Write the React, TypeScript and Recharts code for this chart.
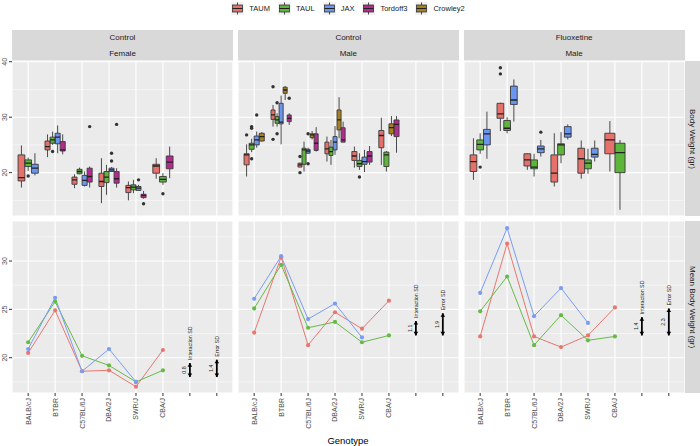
import { ComposedChart, Line, Area, Scatter, XAxis, YAxis, CartesianGrid } from "recharts";

// ---- data ----
const GENOTYPES = ["BALB/cJ", "BTBR", "C57BL/6J", "DBA/2J", "SWR/J", "CBA/J"];
const CATEGORY_TICKS = [1, 2, 3, 4, 5, 6, 7, 8]; // 7 and 8 hold the SD arrows
const LEGEND_GROUPS = ["TAUM", "TAUL", "JAX", "Tordoff3", "Crowley2"];
const DODGE_ORDER = ["TAUM", "TAUL", "JAX", "Crowley2", "Tordoff3"];
const MEAN_GROUPS = ["TAUM", "TAUL", "JAX"];
const STRIP_TREATMENT = ["Control", "Control", "Fluoxetine"];
const STRIP_SEX = ["Female", "Male", "Male"];
const SD_NAMES = ["Interaction SD", "Error SD"];

const BOX_COLORS: Record<string, string> = {
  TAUM: "#E5716A",
  TAUL: "#5DB53C",
  JAX: "#6B96EF",
  Tordoff3: "#B32B8E",
  Crowley2: "#A68020",
};
const LINE_COLORS: Record<string, string> = {
  TAUM: "#E8776F",
  TAUL: "#67BA48",
  JAX: "#7A9DF1",
};

// genotype, group, lower whisker, q1, median, q3, upper whisker, outliers
type Box = [string, string, number, number, number, number, number, number[]];

const FEMALE_BOXES: Box[] = [
  ["BALB/cJ", "TAUM", 17.3, 18.5, 19.1, 23.2, 24.9, []],
  ["BALB/cJ", "TAUL", 20.3, 21.1, 21.7, 22.3, 22.7, [19.4]],
  ["BALB/cJ", "JAX", 19.5, 19.9, 20.8, 21.5, 23.5, []],
  ["BTBR", "TAUM", 22.8, 24.1, 24.7, 25.7, 26.9, []],
  ["BTBR", "TAUL", 25.0, 25.3, 25.9, 26.4, 27.4, [23.8]],
  ["BTBR", "JAX", 23.5, 25.2, 26.4, 27.1, 28.5, []],
  ["BTBR", "Tordoff3", 23.3, 23.9, 24.1, 25.6, 26.9, []],
  ["C57BL/6J", "TAUM", 17.2, 17.9, 18.7, 19.2, 19.7, []],
  ["C57BL/6J", "TAUL", 19.7, 19.8, 20.2, 20.6, 20.9, []],
  ["C57BL/6J", "JAX", 17.5, 17.7, 18.6, 19.5, 20.2, []],
  ["C57BL/6J", "Tordoff3", 17.3, 18.3, 19.3, 20.8, 21.1, [28.3]],
  ["DBA/2J", "TAUM", 14.5, 17.5, 18.4, 19.9, 22.6, []],
  ["DBA/2J", "TAUL", 16.0, 18.2, 19.2, 20.2, 21.4, []],
  ["DBA/2J", "JAX", 20.1, 20.2, 20.5, 20.8, 21.0, [23.5, 22.1]],
  ["DBA/2J", "Tordoff3", 17.3, 18.1, 18.9, 20.2, 20.8, [28.7]],
  ["SWR/J", "TAUM", 15.0, 16.4, 17.3, 17.7, 18.4, []],
  ["SWR/J", "TAUL", 16.3, 16.9, 17.4, 17.8, 18.7, []],
  ["SWR/J", "JAX", 16.7, 16.8, 17.2, 17.5, 17.8, [18.7]],
  ["SWR/J", "Tordoff3", 15.3, 15.5, 15.9, 16.1, 16.7, [14.4]],
  ["CBA/J", "TAUM", 18.9, 19.9, 21.2, 21.5, 22.6, []],
  ["CBA/J", "TAUL", 17.8, 18.3, 18.8, 19.3, 19.9, [16.2]],
  ["CBA/J", "Tordoff3", 19.0, 20.7, 21.9, 23.0, 24.7, []],
];

const MALE_BOXES: Box[] = [
  ["BALB/cJ", "TAUM", 19.3, 21.4, 23.2, 23.4, 25.1, [26.8]],
  ["BALB/cJ", "TAUL", 23.7, 24.2, 25.0, 25.3, 26.1, [28.3, 28.0, 22.5]],
  ["BALB/cJ", "JAX", 24.5, 25.0, 25.9, 26.6, 27.4, [30.4]],
  ["BALB/cJ", "Crowley2", 25.6, 25.7, 26.5, 27.1, 27.3, []],
  ["BTBR", "TAUM", 28.3, 29.6, 30.4, 31.3, 32.2, [26.0, 35.5]],
  ["BTBR", "TAUL", 28.3, 28.9, 29.5, 30.1, 30.7, [32.6, 27.0]],
  ["BTBR", "JAX", 25.1, 28.8, 29.1, 32.5, 33.9, []],
  ["BTBR", "Crowley2", 33.1, 34.3, 34.9, 35.4, 35.6, []],
  ["BTBR", "Tordoff3", 28.6, 29.2, 29.8, 30.4, 30.7, [33.4]],
  ["C57BL/6J", "TAUM", 21.0, 21.0, 21.4, 21.7, 21.8, [22.9, 20.0]],
  ["C57BL/6J", "TAUL", 20.2, 21.5, 24.1, 24.4, 25.6, []],
  ["C57BL/6J", "JAX", 23.4, 23.5, 23.9, 24.2, 24.5, [27.0, 21.6]],
  ["C57BL/6J", "Crowley2", 26.0, 26.3, 26.8, 27.0, 27.5, []],
  ["C57BL/6J", "Tordoff3", 23.8, 24.0, 25.3, 27.0, 28.2, []],
  ["DBA/2J", "TAUM", 22.0, 23.4, 24.3, 25.5, 26.5, []],
  ["DBA/2J", "TAUL", 21.4, 23.1, 23.8, 24.6, 25.9, []],
  ["DBA/2J", "JAX", 23.2, 24.1, 25.5, 26.5, 28.4, []],
  ["DBA/2J", "Crowley2", 26.2, 27.7, 29.5, 31.3, 33.6, []],
  ["DBA/2J", "Tordoff3", 25.5, 25.5, 25.9, 28.1, 29.2, []],
  ["SWR/J", "TAUM", 20.9, 22.2, 23.0, 23.8, 24.7, []],
  ["SWR/J", "TAUL", 20.5, 21.1, 21.6, 22.2, 23.5, [19.2]],
  ["SWR/J", "JAX", 20.1, 21.5, 22.0, 22.8, 24.1, []],
  ["SWR/J", "Tordoff3", 21.4, 21.9, 23.0, 23.8, 24.8, []],
  ["CBA/J", "TAUM", 21.4, 24.5, 26.7, 27.6, 29.9, []],
  ["CBA/J", "TAUL", 20.2, 21.1, 23.2, 23.7, 23.9, []],
  ["CBA/J", "Crowley2", 26.6, 27.0, 28.1, 28.8, 30.2, []],
  ["CBA/J", "Tordoff3", 23.6, 26.5, 28.7, 29.5, 30.2, []],
];

const FLUOX_BOXES: Box[] = [
  ["BALB/cJ", "TAUM", 18.7, 20.2, 22.0, 23.2, 26.2, []],
  ["BALB/cJ", "TAUL", 23.4, 24.1, 25.1, 25.9, 27.1, [21.0]],
  ["BALB/cJ", "JAX", 22.5, 25.0, 27.0, 27.8, 31.0, []],
  ["BTBR", "TAUM", 27.5, 29.8, 30.6, 32.5, 32.6, [38.9, 37.8]],
  ["BTBR", "TAUL", 27.1, 27.6, 28.0, 29.4, 30.0, []],
  ["BTBR", "JAX", 29.2, 32.3, 33.1, 35.6, 36.8, []],
  ["C57BL/6J", "TAUM", 20.5, 21.2, 22.3, 23.4, 23.5, []],
  ["C57BL/6J", "TAUL", 19.3, 20.7, 21.0, 22.3, 23.4, []],
  ["C57BL/6J", "JAX", 22.9, 23.6, 24.3, 24.8, 25.9, [27.3]],
  ["DBA/2J", "TAUM", 17.5, 18.3, 19.9, 23.2, 27.1, []],
  ["DBA/2J", "TAUL", 21.7, 23.2, 25.0, 25.2, 27.3, []],
  ["DBA/2J", "JAX", 26.0, 26.4, 27.0, 28.3, 28.7, []],
  ["SWR/J", "TAUM", 18.9, 19.9, 22.5, 24.4, 25.8, []],
  ["SWR/J", "TAUL", 19.8, 20.7, 21.7, 22.3, 24.3, []],
  ["SWR/J", "JAX", 22.0, 22.8, 23.3, 24.4, 25.8, []],
  ["CBA/J", "TAUM", 20.2, 23.4, 25.9, 27.1, 29.3, []],
  ["CBA/J", "TAUL", 13.3, 20.0, 23.6, 25.3, 25.9, []],
];

// mean body weight per genotype (TAUM, TAUL, JAX)
const FEMALE_MEAN_TAUM = [20.5, 24.9, 18.6, 18.7, 17.0, 20.8];
const FEMALE_MEAN_TAUL = [21.6, 25.8, 20.2, 19.2, 17.5, 18.7];
const FEMALE_MEAN_JAX = [20.9, 26.2, 18.6, 20.9, 17.5, null];
const MALE_MEAN_TAUM = [22.6, 30.4, 21.3, 24.7, 23.0, 25.9];
const MALE_MEAN_TAUL = [25.1, 29.6, 23.1, 23.7, 21.6, 22.3];
const MALE_MEAN_JAX = [26.1, 30.5, 24.0, 25.6, 22.1, null];
const FLUOX_MEAN_TAUM = [22.2, 31.8, 22.2, 21.1, 22.3, 25.2];
const FLUOX_MEAN_TAUL = [24.8, 28.4, 21.3, 24.4, 21.8, 22.2];
const FLUOX_MEAN_JAX = [26.7, 33.4, 24.3, 27.2, 23.6, null];

// SD values (interaction, error) and the arrow extents as drawn
const FEMALE_SD = [0.8, 1.4];
const MALE_SD = [1.1, 1.9];
const FLUOX_SD = [1.4, 2.3];
const FEMALE_ARROW_LOW = [18.0, 18.0];
const FEMALE_ARROW_HIGH = [19.45, 19.8];
const MALE_ARROW_LOW = [22.3, 22.3];
const MALE_ARROW_HIGH = [23.8, 24.6];
const FLUOX_ARROW_LOW = [22.3, 22.3];
const FLUOX_ARROW_HIGH = [24.2, 25.1];

const TOP_MAJOR = [20, 30, 40];
const TOP_MINOR = [15, 25, 35];
const BOTTOM_MAJOR = [20, 25, 30];
const BOTTOM_MINOR = [17.5, 22.5, 27.5, 32.5];

// ---- layout ----
const X_DOMAIN = [0.4, 8.6];
const TOP_DOMAIN = [12.18, 40.13];
const BOTTOM_DOMAIN = [16.35, 34.14];
const PANEL_LEFT = [12, 237.8, 463.6];
const PANEL_W = 221;
const Y_AXIS_W = 12;
const TOP_Y = 61;
const TOP_H = 155;
const TOP_PAD = 6; // room for the "40" label above the panel
const BOTTOM_Y = 221;
const BOTTOM_H = 172;
const X_AXIS_H = 45;
const FONT = '"Liberation Sans", Arial, Helvetica, sans-serif';
const OUTLINE = "#3a3a3a";

function dodge(boxes: Box[]) {
  return boxes.map((b) => {
    const present = DODGE_ORDER.filter((g) => boxes.some((o) => o[0] === b[0] && o[1] === g));
    const n = present.length;
    const i = present.indexOf(b[1]);
    const c = GENOTYPES.indexOf(b[0]) + 1;
    const w = 0.75 / n;
    const x0 = c - 0.375 + i * w;
    return { b, x0, x1: x0 + w, xc: x0 + w / 2 };
  });
}

function boxSeries(boxes: Box[], group: string) {
  const whisker: any[] = [];
  const fill: any[] = [];
  const outline: any[] = [];
  const median: any[] = [];
  const outliers: any[] = [];
  dodge(boxes)
    .filter((d) => d.b[1] === group)
    .forEach(({ b, x0, x1, xc }) => {
      const [, , lo, q1, med, q3, hi, outs] = b;
      whisker.push({ x: xc, y: lo }, { x: xc, y: q1 }, { x: xc, y: null });
      whisker.push({ x: xc, y: q3 }, { x: xc, y: hi }, { x: xc, y: null });
      fill.push({ x: x0, r: [q1, q3] }, { x: x1, r: [q1, q3] }, { x: x1, r: null });
      outline.push(
        { x: x0, y: q1 }, { x: x1, y: q1 }, { x: x1, y: q3 },
        { x: x0, y: q3 }, { x: x0, y: q1 }, { x: x0, y: null }
      );
      median.push({ x: x0, y: med }, { x: x1, y: med }, { x: x1, y: null });
      outs.forEach((o) => outliers.push({ x: xc, y: o }));
    });
  return { whisker, fill, outline, median, outliers };
}

const renderYTick = (p: any) => (
  <text
    x={p.x}
    y={p.y}
    transform={`rotate(-90 ${p.x} ${p.y})`}
    textAnchor="middle"
    fontSize={7}
    fontFamily={FONT}
    fill="#4D4D4D"
  >
    {p.payload.value}
  </text>
);

const renderXTick = (p: any) => (
  <text
    x={p.x}
    y={p.y}
    dy="0.35em"
    transform={`rotate(-90 ${p.x} ${p.y})`}
    textAnchor="end"
    fontSize={7}
    fontFamily={FONT}
    fill="#4D4D4D"
  >
    {GENOTYPES[p.payload.value - 1] ?? ""}
  </text>
);

function Grid({ minor }: { minor: number[] }) {
  return [
    <CartesianGrid key="minor" fill="#EBEBEB" fillOpacity={1} stroke="#FFFFFF" strokeWidth={0.5} vertical={false} horizontalValues={minor} />,
    <CartesianGrid key="major" stroke="#FFFFFF" strokeWidth={1.1} />,
  ];
}

function BoxPanel({ boxes, index }: { boxes: Box[]; index: number }) {
  const showY = index === 0;
  const groups = DODGE_ORDER.filter((g) => boxes.some((b) => b[1] === g));
  const series = groups.map((g) => ({ g, ...boxSeries(boxes, g) }));
  const left = showY ? PANEL_LEFT[0] - Y_AXIS_W : PANEL_LEFT[index];
  return (
    <div style={{ position: "absolute", left, top: TOP_Y - TOP_PAD }}>
      <ComposedChart
        width={PANEL_W + (showY ? Y_AXIS_W : 0)}
        height={TOP_H + TOP_PAD}
        margin={{ top: TOP_PAD, right: 0, bottom: 0, left: 0 }}
      >
        <XAxis type="number" dataKey="x" domain={X_DOMAIN} ticks={CATEGORY_TICKS} hide allowDataOverflow />
        <YAxis
          type="number"
          domain={TOP_DOMAIN}
          ticks={TOP_MAJOR}
          interval={0}
          hide={!showY}
          width={Y_AXIS_W}
          tickSize={3}
          tickMargin={2}
          axisLine={false}
          tickLine={{ stroke: "#333333" }}
          tick={renderYTick}
          allowDataOverflow
        />
        {Grid({ minor: TOP_MINOR })}
        {series.map((s) => (
          <Line key={"w" + s.g} data={s.whisker} dataKey="y" type="linear" stroke="#4a4a4a" strokeWidth={1} dot={false} activeDot={false} isAnimationActive={false} />
        ))}
        {series.map((s) => (
          <Area key={"f" + s.g} data={s.fill} dataKey="r" type="linear" fill={BOX_COLORS[s.g]} fillOpacity={1} stroke="none" dot={false} activeDot={false} isAnimationActive={false} />
        ))}
        {series.map((s) => (
          <Line key={"o" + s.g} data={s.outline} dataKey="y" type="linear" stroke={OUTLINE} strokeWidth={0.9} dot={false} activeDot={false} isAnimationActive={false} />
        ))}
        {series.map((s) => (
          <Line key={"m" + s.g} data={s.median} dataKey="y" type="linear" stroke="#222222" strokeWidth={1.3} dot={false} activeDot={false} isAnimationActive={false} />
        ))}
        {series.map((s) => (
          <Scatter
            key={"p" + s.g}
            data={s.outliers}
            dataKey="y"
            isAnimationActive={false}
            shape={(p: any) => <circle cx={p.cx} cy={p.cy} r={1.7} fill="#333333" />}
          />
        ))}
      </ComposedChart>
    </div>
  );
}

function arrowDot(name: string) {
  return (p: any) => {
    const { cx, cy, index } = p;
    if (index === 0) {
      return <path key={"lo" + cx} d={`M${cx - 2.3},${cy - 3.6}L${cx + 2.3},${cy - 3.6}L${cx},${cy}Z`} fill="#000" />;
    }
    return (
      <g key={"hi" + cx}>
        <path d={`M${cx - 2.3},${cy + 3.6}L${cx + 2.3},${cy + 3.6}L${cx},${cy}Z`} fill="#000" />
        <text
          x={cx}
          y={cy - 3}
          dy="0.35em"
          transform={`rotate(-90 ${cx} ${cy - 3})`}
          textAnchor="start"
          fontSize={5.3}
          fontFamily={FONT}
          fill="#1A1A1A"
        >
          {name}
        </text>
      </g>
    );
  };
}

function MeanPanel({
  index,
  means,
  sd,
  low,
  high,
}: {
  index: number;
  means: (number | null)[][];
  sd: number[];
  low: number[];
  high: number[];
}) {
  const showY = index === 0;
  const left = showY ? PANEL_LEFT[0] - Y_AXIS_W : PANEL_LEFT[index];
  const sdLabels = sd.map((v, k) => ({ x: 7 + k, y: low[k] + (high[k] - low[k]) / 2, v }));
  return (
    <div style={{ position: "absolute", left, top: BOTTOM_Y }}>
      <ComposedChart width={PANEL_W + (showY ? Y_AXIS_W : 0)} height={BOTTOM_H + X_AXIS_H} margin={{ top: 0, right: 0, bottom: 0, left: 0 }}>
        <XAxis
          type="number"
          dataKey="x"
          domain={X_DOMAIN}
          ticks={CATEGORY_TICKS}
          interval={0}
          height={X_AXIS_H}
          tickSize={3}
          tickMargin={2}
          axisLine={false}
          tickLine={{ stroke: "#333333" }}
          tick={renderXTick}
          allowDataOverflow
        />
        <YAxis
          type="number"
          domain={BOTTOM_DOMAIN}
          ticks={BOTTOM_MAJOR}
          interval={0}
          hide={!showY}
          width={Y_AXIS_W}
          tickSize={3}
          tickMargin={2}
          axisLine={false}
          tickLine={{ stroke: "#333333" }}
          tick={renderYTick}
          allowDataOverflow
        />
        {Grid({ minor: BOTTOM_MINOR })}
        {MEAN_GROUPS.map((g, gi) => (
          <Line
            key={g}
            data={means[gi].map((v, i) => ({ x: i + 1, y: v }))}
            dataKey="y"
            type="linear"
            stroke={LINE_COLORS[g]}
            strokeWidth={1}
            dot={{ r: 2.1, fill: LINE_COLORS[g], stroke: "none" }}
            activeDot={false}
            isAnimationActive={false}
          />
        ))}
        {SD_NAMES.map((name, k) => (
          <Line
            key={name}
            data={[
              { x: 7 + k, y: low[k] },
              { x: 7 + k, y: high[k] },
            ]}
            dataKey="y"
            type="linear"
            stroke="#000"
            strokeWidth={1.8}
            dot={arrowDot(name)}
            activeDot={false}
            isAnimationActive={false}
          />
        ))}
        <Scatter
          data={sdLabels}
          dataKey="y"
          isAnimationActive={false}
          shape={(p: any) => (
            <text
              x={p.cx - 5.5}
              y={p.cy}
              dy="0.35em"
              transform={`rotate(-90 ${p.cx - 5.5} ${p.cy})`}
              textAnchor="middle"
              fontSize={5.3}
              fontFamily={FONT}
              fill="#1A1A1A"
            >
              {p.payload.v}
            </text>
          )}
        />
      </ComposedChart>
    </div>
  );
}

function LegendKey({ color }: { color: string }) {
  return (
    <svg width={13} height={13} style={{ display: "block" }}>
      <rect x={0} y={0} width={13} height={13} fill="#F2F2F2" />
      <line x1={6.5} x2={6.5} y1={0.5} y2={12.5} stroke="#333333" strokeWidth={0.9} />
      <rect x={1.5} y={3} width={10} height={7} fill={color} stroke="#333333" strokeWidth={0.8} />
      <line x1={1.5} x2={11.5} y1={6.5} y2={6.5} stroke="#222222" strokeWidth={1} />
    </svg>
  );
}

const stripStyle = {
  position: "absolute" as const,
  background: "#D9D9D9",
  color: "#1A1A1A",
  fontSize: 8,
  display: "flex",
  alignItems: "center",
  justifyContent: "center",
};

export default function App() {
  const panelBoxes = [FEMALE_BOXES, MALE_BOXES, FLUOX_BOXES];
  const panelMeans = [
    [FEMALE_MEAN_TAUM, FEMALE_MEAN_TAUL, FEMALE_MEAN_JAX],
    [MALE_MEAN_TAUM, MALE_MEAN_TAUL, MALE_MEAN_JAX],
    [FLUOX_MEAN_TAUM, FLUOX_MEAN_TAUL, FLUOX_MEAN_JAX],
  ];
  const panelSd = [FEMALE_SD, MALE_SD, FLUOX_SD];
  const panelLow = [FEMALE_ARROW_LOW, MALE_ARROW_LOW, FLUOX_ARROW_LOW];
  const panelHigh = [FEMALE_ARROW_HIGH, MALE_ARROW_HIGH, FLUOX_ARROW_HIGH];
  const stripLeft = PANEL_LEFT[2] + PANEL_W;

  return (
    <div
      style={{
        position: "absolute",
        left: 0,
        top: 0,
        width: 700,
        height: 446,
        background: "#FFFFFF",
        fontFamily: FONT,
        overflow: "hidden",
      }}
    >
      {/* legend */}
      <div
        style={{
          position: "absolute",
          left: 0,
          top: 2,
          width: 696,
          display: "flex",
          justifyContent: "center",
          alignItems: "center",
          gap: 8,
          fontSize: 7.5,
          color: "#1A1A1A",
        }}
      >
        {LEGEND_GROUPS.map((g) => (
          <div key={g} style={{ display: "flex", alignItems: "center" }}>
            <LegendKey color={BOX_COLORS[g]} />
            <span style={{ marginLeft: 5 }}>{g}</span>
          </div>
        ))}
      </div>

      {/* top strips */}
      {PANEL_LEFT.map((l, i) => (
        <div key={"s" + i}>
          <div style={{ ...stripStyle, left: l, top: 30, width: PANEL_W, height: 15.5 }}>{STRIP_TREATMENT[i]}</div>
          <div style={{ ...stripStyle, left: l, top: 45.5, width: PANEL_W, height: 15.5 }}>{STRIP_SEX[i]}</div>
        </div>
      ))}

      {/* right strips */}
      <div style={{ ...stripStyle, left: stripLeft, top: TOP_Y, width: 700 - stripLeft, height: TOP_H }}>
        <span style={{ writingMode: "vertical-rl", whiteSpace: "nowrap" }}>Body Weight (gr)</span>
      </div>
      <div style={{ ...stripStyle, left: stripLeft, top: BOTTOM_Y, width: 700 - stripLeft, height: BOTTOM_H }}>
        <span style={{ writingMode: "vertical-rl", whiteSpace: "nowrap" }}>Mean Body Weight (gr)</span>
      </div>

      {panelBoxes.map((b, i) => (
        <BoxPanel key={"b" + i} boxes={b} index={i} />
      ))}
      {panelMeans.map((m, i) => (
        <MeanPanel key={"m" + i} index={i} means={m} sd={panelSd[i]} low={panelLow[i]} high={panelHigh[i]} />
      ))}

      <div
        style={{
          position: "absolute",
          left: 0,
          top: 435,
          width: 696,
          textAlign: "center",
          fontSize: 9.5,
          color: "#000",
        }}
      >
        Genotype
      </div>
    </div>
  );
}
